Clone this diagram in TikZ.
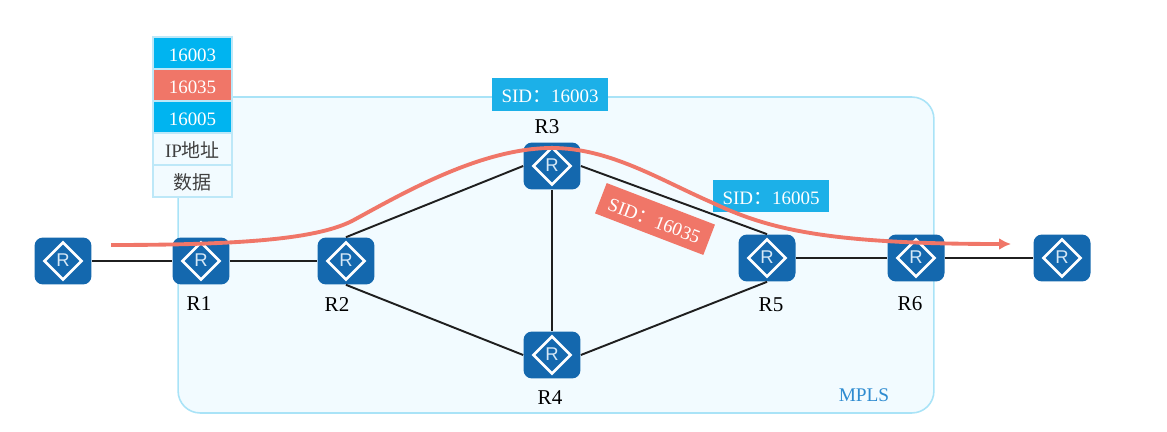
\documentclass[tikz,border=0pt]{standalone}
\usepackage{fontspec}
\usepackage{tikz}
\usetikzlibrary{calc}
\usetikzlibrary{shapes.geometric}
\usetikzlibrary{arrows.meta}
\setmainfont{Liberation Serif}
\setsansfont{Liberation Sans}
\newfontfamily\cjk{Noto Sans CJK SC}
\definecolor{routerblue}{HTML}{1468AE}
\definecolor{routerglyph}{HTML}{D6E8F6}
\definecolor{cellblue}{HTML}{00B4F0}
\definecolor{cellred}{HTML}{F07668}
\definecolor{cellpale}{HTML}{F2FBFF}
\definecolor{cellline}{HTML}{BDE8F8}
\definecolor{mplsline}{HTML}{A9E3F7}
\definecolor{sidblue}{HTML}{1CB0E8}
\definecolor{mplstext}{HTML}{2E8BD0}
\definecolor{linkblack}{HTML}{1F1F1F}

\tikzset{
    router/.style={rectangle, fill=routerblue, rounded corners=0.17cm, minimum width=1.14cm, minimum height=0.94cm, inner sep=0pt,
        path picture={
            \node[diamond, sharp corners, draw=white, fill=none, line width=1.5pt, minimum size=0.76cm, inner sep=0pt] at (path picture bounding box.center) {};
            \node[text=routerglyph, font=\fontsize{10.5}{12}\sffamily\selectfont, inner sep=0pt, sharp corners] at ($(path picture bounding box.center) + (0,-1)$) {R};
        }},
    routername/.style={font=\fontsize{12}{14}\selectfont, text=black, inner sep=0pt},
    cell/.style={rectangle, draw=cellline, line width=0.8pt, minimum width=1.58cm, minimum height=0.64cm, inner sep=0pt, text height=9.5pt, text depth=0pt, font=\fontsize{10.8}{13}\selectfont},
    sidbox/.style={rectangle, minimum width=2.32cm, minimum height=0.65cm, inner sep=0pt, text=white, text height=9.5pt, text depth=0pt, font=\fontsize{10.8}{13}\selectfont},
    link/.style={draw=linkblack, line width=1.1pt}
}

\begin{document}
\begin{tikzpicture}[x=0.02cm, y=-0.02cm]
    \useasboundingbox (0,0) rectangle (1167,432);

    \node[rectangle, draw=mplsline, fill=cellpale, line width=0.9pt, rounded corners=0.44cm, minimum width=15.12cm, minimum height=6.32cm, inner sep=0pt] (mpls) at (556,255) {};

    \node[router] (h1) at (63,261) {};

    \node[router] (r1) at (201,261) {};

    \node[router] (r2) at ($(r1) + (145,0)$) {};

    \node[router] (r3) at (552,166) {};

    \node[router] (r4) at ($(r3) + (0,189)$) {};

    \node[router] (r5) at (767,258) {};

    \node[router] (r6) at ($(r5) + (149,0)$) {};

    \node[router] (h2) at ($(r6) + (146,0)$) {};

    \draw[link] (h1) -- (r1);
    \draw[link] (r1) -- (r2);
    \draw[link] (r2.north) -- (r3.west);
    \draw[link] (r2.south) -- (r4.west);
    \draw[link] (r3.east) -- (r5.north);
    \draw[link] (r4.east) -- (r5.south);
    \draw[link] (r3) -- (r4);
    \draw[link] (r5) -- (r6);
    \draw[link] (r6) -- (h2);

    \node[routername] (r1name) at ($(r1) + (-2,43)$) {R1};
    \node[routername] (r2name) at ($(r2) + (-9,44)$) {R2};
    \node[routername] (r3name) at ($(r3) + (-5,-39)$) {R3};
    \node[routername] (r4name) at ($(r4) + (-2,43)$) {R4};
    \node[routername] (r5name) at ($(r5) + (4,47)$) {R5};
    \node[routername] (r6name) at ($(r6) + (-6,46)$) {R6};

    \node[cell, fill=cellblue, text=white] (stacka) at (192.5,53) {16003};
    \node[cell, fill=cellred, text=white] (stackb) at ($(stacka) + (0,32)$) {16035};
    \node[cell, fill=cellblue, text=white] (stackc) at ($(stackb) + (0,32)$) {16005};
    \node[cell, fill=cellpale, text=black!75] (stackd) at ($(stackc) + (0,32)$) {IP{\cjk 地址}};
    \node[cell, fill=cellpale, text=black!75] (stacke) at ($(stackd) + (0,32)$) {{\cjk 数据}};

    \node[sidbox, fill=sidblue] (sida) at (550,94.5) {SID{\cjk ：}16003};
    \node[sidbox, fill=sidblue] (sidb) at (771,196) {SID{\cjk ：}16005};
    \node[sidbox, fill=cellred, rotate=-21] (sidc) at (655,219) {SID{\cjk ：}16035};

    \node[font=\fontsize{11}{13}\selectfont, text=mplstext, inner sep=0pt] (mplsname) at (864,395) {MPLS};

    \coordinate (flowa) at (111,245);
    \coordinate (flowb) at (352,221);
    \coordinate (flowc) at (552,148);
    \coordinate (flowd) at (713,203);
    \coordinate (flowe) at (1011,244);

    \draw[draw=cellred, line width=2.2pt, -{Latex[length=0.24cm, width=0.24cm]}] (flowa) .. controls (250,245) and (318,238) .. (flowb) .. controls (400,195) and (480,148) .. (flowc) .. controls (610,148) and (660,180) .. (flowd) .. controls (770,230) and (830,244) .. (flowe);
\end{tikzpicture}
\end{document}
